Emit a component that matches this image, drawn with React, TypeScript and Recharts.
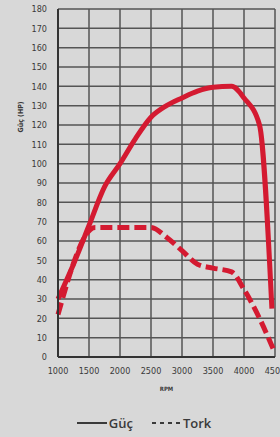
import { CartesianGrid, Label, Line, LineChart, XAxis, YAxis } from 'recharts';

const RPM_TICKS = [1000, 1500, 2000, 2500, 3000, 3500, 4000, 4500];
const HP_TICKS = [0, 10, 20, 30, 40, 50, 60, 70, 80, 90, 100, 110, 120, 130, 140, 150, 160, 170, 180];

const powerRpm = [1000, 1250, 1500, 1750, 2000, 2250, 2500, 2750, 3000, 3250, 3500, 3800, 4000, 4250, 4450];
const powerHp = [30, 48, 68, 88, 100, 113, 124, 130, 134, 137.5, 139.5, 140, 134, 120, 25];

const torqueRpm = [1000, 1600, 2500, 2750, 3000, 3250, 3500, 3800, 4000, 4250, 4500];
const torqueVal = [22, 67, 67, 62, 55, 48, 46, 44, 35, 20, 2];

const powerData = powerRpm.map((rpm, i) => ({ rpm, guc: powerHp[i] }));
const torqueData = torqueRpm.map((rpm, i) => ({ rpm, tork: torqueVal[i] }));

const RED = '#d41a31';
const GRID = '#555';
const INK = '#3a3a3a';
const FONT = '"DejaVu Sans Condensed", "DejaVu Sans", sans-serif';

export default function App() {
  return (
    <div
      style={{
        position: 'absolute',
        left: 0,
        top: 0,
        width: 280,
        height: 437,
        background: '#d8d8d8',
        fontFamily: FONT,
        overflow: 'hidden',
      }}
    >
      <LineChart width={280} height={400} margin={{ top: 9, right: 5, left: 0, bottom: 9 }}>
        <CartesianGrid stroke={GRID} strokeWidth={1.5} horizontalValues={HP_TICKS} verticalValues={RPM_TICKS} />
        <XAxis
          type="number"
          dataKey="rpm"
          domain={[1000, 4500]}
          ticks={RPM_TICKS}
          allowDuplicatedCategory={false}
          tickLine={false}
          tickMargin={5}
          height={34}
          stroke="#333"
          strokeWidth={2}
          tick={{ fill: INK, fontSize: 9, fontFamily: FONT }}
          interval={0}
        >
          <Label value="RPM" position="insideBottom" offset={0} fill={INK} fontSize={6} fontWeight="bold" />
        </XAxis>
        <YAxis
          type="number"
          domain={[0, 180]}
          ticks={HP_TICKS}
          width={58}
          tickLine={false}
          tickMargin={5}
          stroke="#333"
          strokeWidth={2}
          tick={{ fill: INK, fontSize: 9, fontFamily: FONT }}
          interval={0}
        >
          <Label
            content={({ viewBox }: any) => {
              const x = (viewBox?.x ?? 0) + 21;
              const y = (viewBox?.y ?? 0) + (viewBox?.height ?? 0) * 0.31;
              return (
                <text
                  x={x}
                  y={y}
                  transform={`rotate(-90, ${x}, ${y})`}
                  textAnchor="middle"
                  dominantBaseline="central"
                  fill={INK}
                  fontSize={7}
                  fontWeight="bold"
                  fontFamily={FONT}
                >
                  Güç (HP)
                </text>
              );
            }}
          />
        </YAxis>
        <Line
          data={powerData}
          dataKey="guc"
          type="monotone"
          stroke={RED}
          strokeWidth={5}
          dot={false}
          isAnimationActive={false}
        />
        <Line
          data={torqueData}
          dataKey="tork"
          type="monotone"
          stroke={RED}
          strokeWidth={5}
          strokeDasharray="12 5"
          dot={false}
          isAnimationActive={false}
        />
      </LineChart>
      <div
        style={{
          position: 'absolute',
          left: 0,
          top: 414,
          width: 280,
          display: 'flex',
          alignItems: 'center',
          justifyContent: 'center',
          gap: 18,
          fontSize: 13,
          fontWeight: 600,
          color: INK,
          fontFamily: '"Open Sans", sans-serif',
        }}
      >
        <span style={{ display: 'flex', alignItems: 'center', gap: 2, marginLeft: 8 }}>
          <svg width={30} height={4}>
            <line x1={0} y1={2} x2={30} y2={2} stroke={INK} strokeWidth={2} />
          </svg>
          Güç
        </span>
        <span style={{ display: 'flex', alignItems: 'center', gap: 2 }}>
          <svg width={30} height={4}>
            <line x1={1} y1={2} x2={30} y2={2} stroke={INK} strokeWidth={2} strokeDasharray="4 4" />
          </svg>
          Tork
        </span>
      </div>
    </div>
  );
}
